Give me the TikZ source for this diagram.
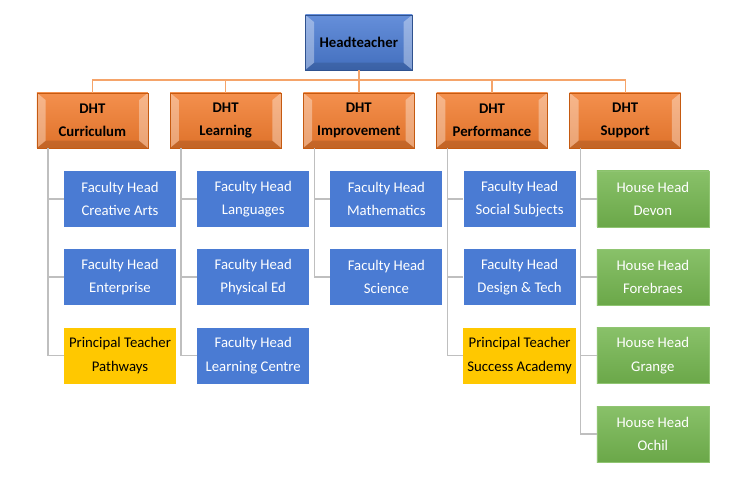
\documentclass[tikz,border=0pt]{standalone}
\usepackage{fontspec}
\setmainfont{Carlito}
\usepackage{xcolor}
\usetikzlibrary{positioning, calc}
\definecolor{chart-blue}{HTML}{4A7BD3}
\definecolor{chart-navy}{HTML}{2F528F}
\definecolor{chart-orange}{HTML}{F27C2E}
\definecolor{chart-rust}{HTML}{C55A11}
\definecolor{chart-line}{HTML}{F5A46A}
\definecolor{chart-gray}{HTML}{BFBFBF}
\definecolor{chart-yellow}{HTML}{FFC800}
\definecolor{chart-green}{HTML}{74B64F}

\begin{document}
\begin{tikzpicture}[
    bevel/.style={path picture={
        \fill[white, opacity=0.35] (path picture bounding box.south west) -- (path picture bounding box.north west)
            -- ++(0.22,-0.18) -- ($(path picture bounding box.south west)+(0.22,0.18)$) -- cycle;
        \fill[white, opacity=0.35] (path picture bounding box.south east) -- (path picture bounding box.north east)
            -- ++(-0.22,-0.18) -- ($(path picture bounding box.south east)+(-0.22,0.18)$) -- cycle;
        \fill[black, opacity=0.12] (path picture bounding box.south west) -- ++(0.22,0.18)
            -- ($(path picture bounding box.south east)+(-0.22,0.18)$) -- (path picture bounding box.south east) -- cycle;
    }},
    headbox/.style={bevel, draw=chart-navy, top color=chart-blue!85!white, bottom color=chart-blue!90!black,
        minimum width=2.675cm, minimum height=1.375cm, font=\fontsize{10.5}{12}\selectfont\bfseries, align=center},
    dhtbox/.style={bevel, draw=chart-rust, top color=chart-orange!85!white, bottom color=chart-orange!92!black,
        minimum width=2.775cm, minimum height=1.375cm, font=\fontsize{10.5}{16.5}\selectfont\bfseries, align=center},
    staffbox/.style={fill=chart-blue, text=white, minimum width=2.8cm, minimum height=1.4cm,
        font=\fontsize{10.5}{16.5}\selectfont, align=center},
    ptbox/.style={staffbox, fill=chart-yellow, text=black},
    housebox/.style={staffbox, fill=none, top color=chart-green!85!white, bottom color=chart-green!92!black,
        draw=chart-green!80!white},
    bus/.style={draw=chart-line, line width=1pt},
    spoke/.style={draw=chart-gray, line width=1pt},
]
    \useasboundingbox (0,0) rectangle (18.6,-12.45);

    % Top
    \node[headbox] (head) at (8.97, -1.06) {Headteacher};
    \coordinate (bus) at (8.97, -2.0);

    % Deputies
    \node[dhtbox] (cur) at (2.31, -3.01) {DHT\\Curriculum};
    \node[dhtbox] (lea) at (5.64, -3.01) {DHT\\Learning};
    \node[dhtbox] (imp) at (8.97, -3.01) {DHT\\Improvement};
    \node[dhtbox] (per) at (12.30, -3.01) {DHT\\Performance};
    \node[dhtbox] (sup) at (15.63, -3.01) {DHT\\Support};

    % Curriculum
    \node[staffbox] (cur1) at (3.00, -4.97) {Faculty Head\\Creative Arts};
    \node[staffbox] (cur2) at (3.00, -6.93) {Faculty Head\\Enterprise};
    \node[ptbox] (cur3) at (3.00, -8.89) {Principal Teacher\\Pathways};

    % Learning
    \node[staffbox] (lea1) at (6.33, -4.97) {Faculty Head\\Languages};
    \node[staffbox] (lea2) at (6.33, -6.93) {Faculty Head\\Physical Ed};
    \node[staffbox] (lea3) at (6.33, -8.89) {Faculty Head\\Learning Centre};

    % Improvement
    \node[staffbox] (imp1) at (9.66, -4.97) {Faculty Head\\Mathematics};
    \node[staffbox] (imp2) at (9.66, -6.93) {Faculty Head\\Science};

    % Performance
    \node[staffbox] (per1) at (12.99, -4.97) {Faculty Head\\Social Subjects};
    \node[staffbox] (per2) at (12.99, -6.93) {Faculty Head\\Design \& Tech};
    \node[ptbox] (per3) at (12.99, -8.89) {Principal Teacher\\Success Academy};

    % Support
    \node[housebox] (sup1) at (16.32, -4.97) {House Head\\Devon};
    \node[housebox] (sup2) at (16.32, -6.93) {House Head\\Forebraes};
    \node[housebox] (sup3) at (16.32, -8.89) {House Head\\Grange};
    \node[housebox] (sup4) at (16.32, -10.85) {House Head\\Ochil};

    % Orange bus
    \draw[bus] (head.south) -- (bus);
    \draw[bus] (bus) -| (cur.north);
    \draw[bus] (bus) -| (lea.north);
    \draw[bus] (bus) -- (imp.north);
    \draw[bus] (bus) -| (per.north);
    \draw[bus] (bus) -| (sup.north);

    % Gray spokes
    \coordinate (cur0) at ($(cur.south west)+(0.28,0)$);
    \coordinate (lea0) at ($(lea.south west)+(0.28,0)$);
    \coordinate (imp0) at ($(imp.south west)+(0.28,0)$);
    \coordinate (per0) at ($(per.south west)+(0.28,0)$);
    \coordinate (sup0) at ($(sup.south west)+(0.28,0)$);
    \draw[spoke] (cur0) |- (cur1.west) (cur0) |- (cur2.west) (cur0) |- (cur3.west);
    \draw[spoke] (lea0) |- (lea1.west) (lea0) |- (lea2.west) (lea0) |- (lea3.west);
    \draw[spoke] (imp0) |- (imp1.west) (imp0) |- (imp2.west);
    \draw[spoke] (per0) |- (per1.west) (per0) |- (per2.west) (per0) |- (per3.west);
    \draw[spoke] (sup0) |- (sup1.west) (sup0) |- (sup2.west) (sup0) |- (sup3.west) (sup0) |- (sup4.west);
\end{tikzpicture}
\end{document}
